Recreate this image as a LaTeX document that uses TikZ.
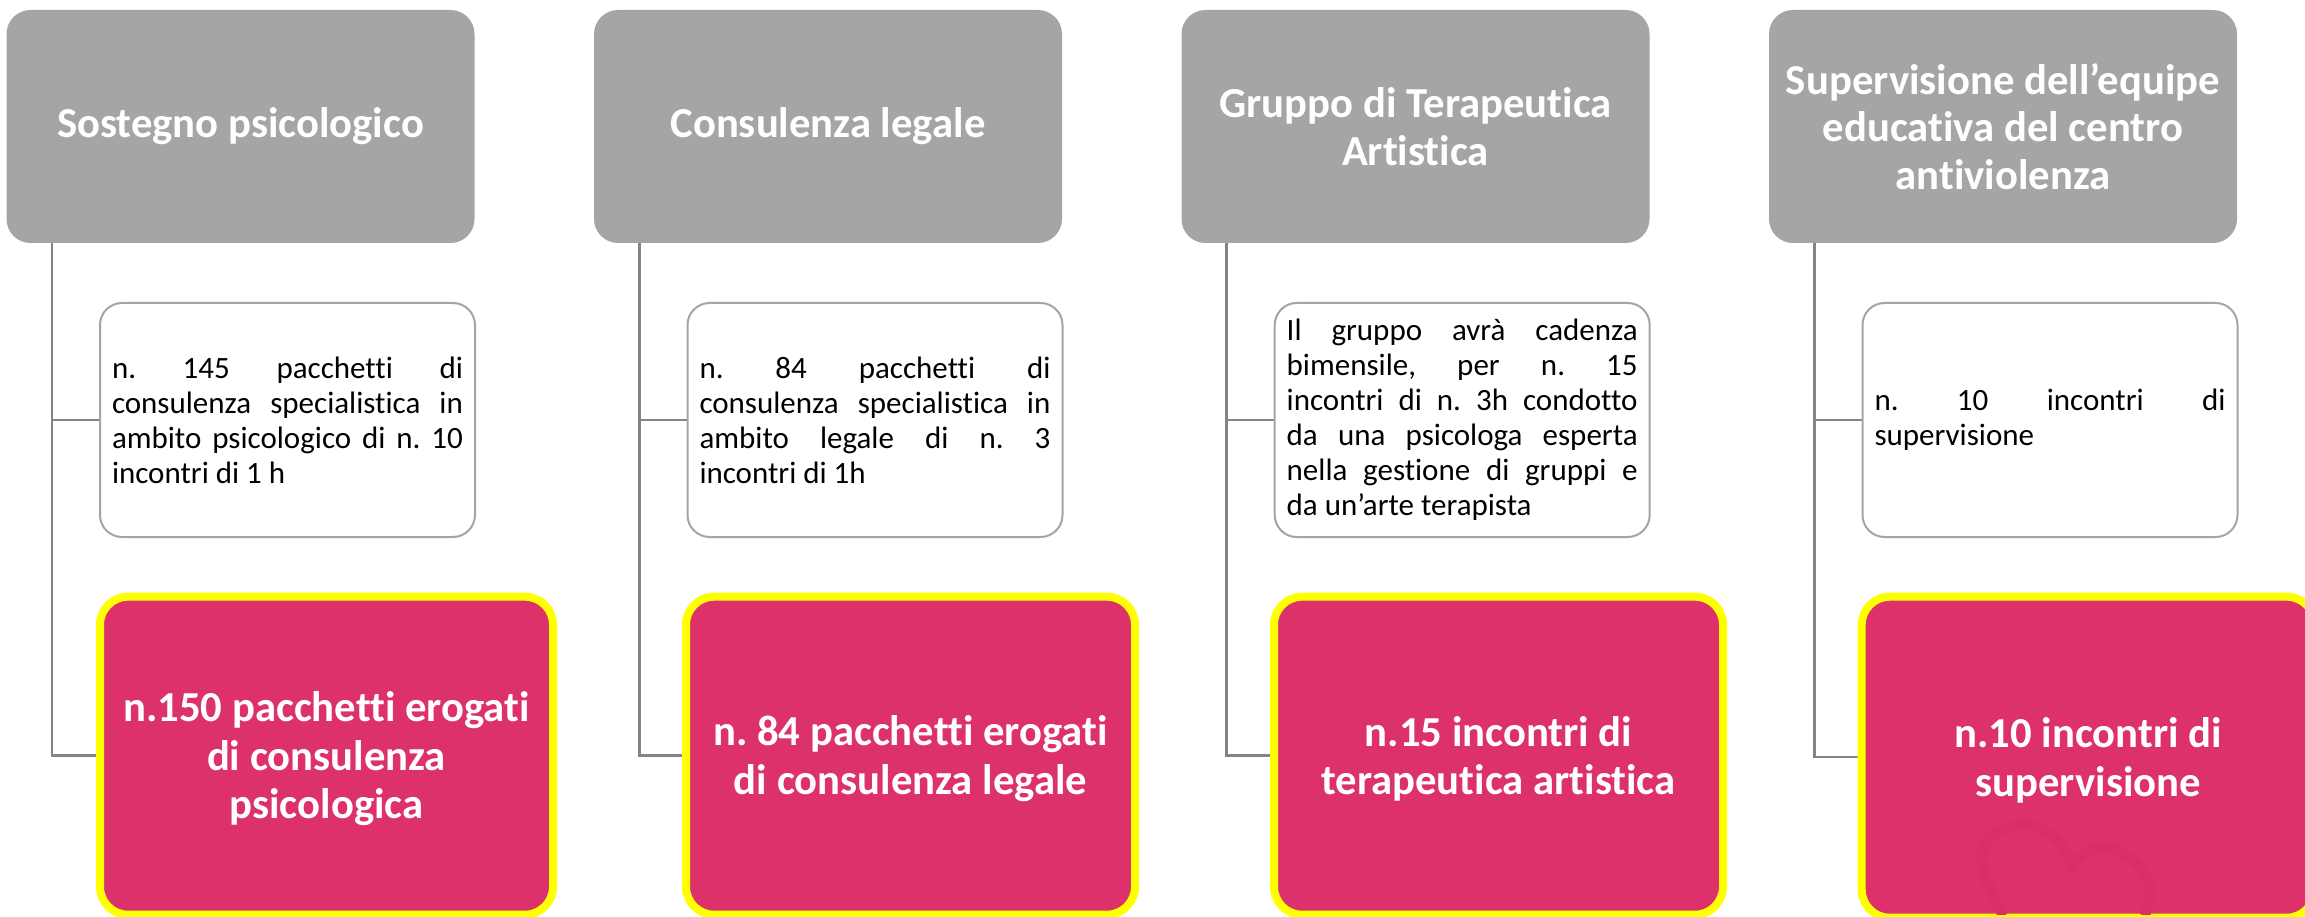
\documentclass[tikz,border=0pt]{standalone}
\usepackage{fontspec}
\setmainfont{Carlito}[Ligatures={NoCommon,NoRequired,NoContextual}]
\usetikzlibrary{backgrounds}
\definecolor{grayfill}{HTML}{A5A5A5}
\definecolor{pinkfill}{HTML}{DD316B}
\definecolor{heartcol}{HTML}{DB2E68}
\definecolor{connector}{HTML}{848484}
\definecolor{brightyellow}{HTML}{FFFF00}
\tikzset{
  x=1pt,y=-1pt,
  head/.style={draw=none,fill=grayfill,rounded corners=24pt,minimum width=468pt,minimum height=233pt,text width=450pt,text=white,font=\fontsize{42.7}{47.5}\selectfont\bfseries,inner sep=0pt,outer sep=0pt,anchor=north west,execute at begin node={\centering\spaceskip=0pt\xspaceskip=0pt\relax}},
  detail/.style={draw=grayfill,line width=2pt,fill=white,rounded corners=22pt,minimum width=375pt,minimum height=234pt,inner sep=0pt,anchor=north west},
  result/.style={draw=brightyellow,line width=8pt,fill=pinkfill,rounded corners=28pt,minimum width=449pt,minimum height=318pt,text width=425pt,text=white,font=\fontsize{42.7}{48.5}\selectfont\bfseries,inner sep=0pt,anchor=north west,execute at begin node={\centering\spaceskip=0pt\xspaceskip=0pt\relax\leavevmode\rule{0pt}{36pt}}},
  conn/.style={draw=connector,line width=2.5pt},
}
\newcommand{\bodytext}[1]{\begin{minipage}{351pt}\frenchspacing\fontsize{31}{35}\selectfont\hbadness=10000\hfuzz=5pt #1\end{minipage}}
\begin{document}
\frenchspacing
\begin{tikzpicture}
\useasboundingbox (0,0) rectangle (2305,917);
\begin{scope}[on background layer]
\fill[white] (0,0) rectangle (2305,917);
\end{scope}
% column 1
\node[head] (g1) at (6.5,10) {Sostegno psicologico};
\node[detail] (w1) at (99,302) {\bodytext{n. 145 pacchetti di\linebreak consulenza specialistica in\linebreak ambito psicologico di n. 10\linebreak incontri di 1 h}};
\node[result,minimum width=453pt] (p1) at (96,592.7) {n.150 pacchetti erogati\\ di consulenza\\ psicologica};
\coordinate (t1) at (52,243);
% column 2
\node[head] (g2) at (594,10) {Consulenza legale};
\node[detail] (w2) at (686.5,302) {\bodytext{n. 84 pacchetti di\linebreak consulenza specialistica in\linebreak ambito legale di n. 3\linebreak incontri di 1h}};
\node[result] (p2) at (682,592.7) {n. 84 pacchetti erogati\\ di consulenza legale};
\coordinate (t2) at (639.5,243);
% column 3
\node[head] (g3) at (1181.5,10) {Gruppo di Terapeutica\\ Artistica};
\node[detail] (w3) at (1273.7,302) {\bodytext{Il gruppo avrà cadenza\linebreak bimensile, per n. 15\linebreak incontri di n. 3h condotto\linebreak da una psicologa esperta\linebreak nella gestione di gruppi e\linebreak da un’arte terapista}};
\node[result] (p3) at (1270,592.7) {n.15 incontri di\\ terapeutica artistica};
\coordinate (t3) at (1226.7,243);
% column 4
\node[head] (g4) at (1769,10) {Supervisione dell’equipe\\ educativa del centro\\ antiviolenza};
\node[detail] (w4) at (1861.5,302) {\bodytext{n. 10 incontri di\linebreak supervisione}};
\node[result,minimum height=321pt,minimum width=453pt] (p4) at (1857.7,592.7) {n.10 incontri di\\ supervisione};
\coordinate (t4) at (1814.5,243);
% faint heart
\begin{scope}
\clip (1866,601) rectangle (2305,914);
\draw[heartcol,line width=10pt] (2003,916) .. controls (1990,890) and (1980,870) .. (1982,855) .. controls (1985,835) and (2005,824) .. (2028,825) .. controls (2048,826) and (2063,845) .. (2073,866) .. controls (2080,855) and (2090,848) .. (2102,847) .. controls (2130,848) and (2150,875) .. (2150,895) .. controls (2150,902) and (2148,910) .. (2144,916);
\end{scope}
\begin{scope}[on background layer]
\foreach \i in {1,2,3,4} {
  \draw[conn] (t\i) |- (w\i.west);
  \draw[conn] (t\i) |- (p\i.west);
}
\end{scope}
\end{tikzpicture}
\end{document}
